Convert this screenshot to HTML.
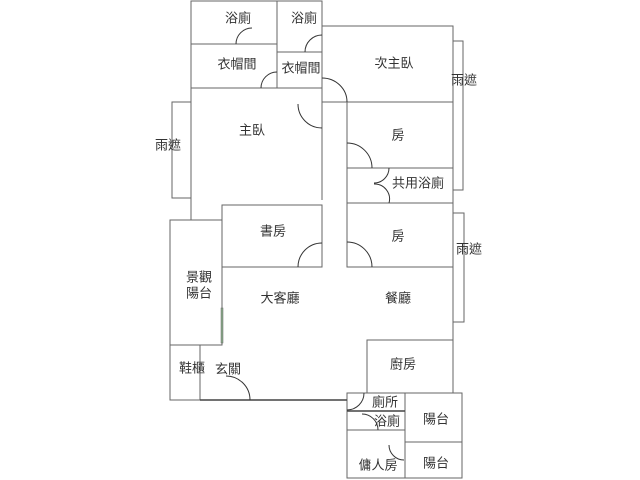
<!DOCTYPE html>
<html><head><meta charset="utf-8"><style>
html,body{margin:0;padding:0;background:#fff;}
svg{display:block}
text{font-family:"Liberation Sans","Noto Sans CJK TC","WenQuanYi Zen Hei",sans-serif;font-size:13px;fill:#333;text-anchor:middle;dominant-baseline:central}
</style></head><body>
<svg width="640" height="480" viewBox="0 0 640 480" xmlns="http://www.w3.org/2000/svg">
<g fill="none" stroke="#666" stroke-width="1">
<!-- top baths / closets -->
<rect x="191" y="1" width="86" height="43"/>
<rect x="277" y="1" width="45" height="51"/>
<rect x="191" y="44" width="86" height="44"/>
<rect x="277" y="52" width="45" height="36"/>
<!-- 次主臥 -->
<rect x="322" y="26" width="131" height="76"/>
<!-- 雨遮 right top -->
<rect x="453" y="41" width="10" height="149"/>
<!-- 雨遮 left -->
<rect x="172" y="102" width="19" height="96"/>
<!-- main bedroom walls -->
<line x1="191" y1="88" x2="191" y2="220"/>
<line x1="191" y1="88" x2="322" y2="88"/>
<line x1="322" y1="88" x2="322" y2="200"/>
<!-- 房 -->
<line x1="347" y1="102" x2="347" y2="267"/>
<rect x="347" y="102" width="106" height="66"/>
<rect x="347" y="168" width="106" height="35"/>
<!-- 書房 -->
<rect x="222" y="205" width="100" height="62"/>
<!-- 房2 -->
<rect x="347" y="203" width="106" height="64"/>
<!-- 雨遮 right 2 -->
<rect x="453" y="213" width="11" height="109"/>
<!-- 景觀陽台 -->
<rect x="170" y="220" width="52" height="125"/>
<!-- outer right wall -->
<line x1="453" y1="203" x2="453" y2="340"/>
<!-- 廚房 -->
<rect x="367" y="340" width="86" height="53"/>
<!-- 鞋櫃 -->
<rect x="170" y="345" width="30" height="55"/>
<!-- bottom rooms -->
<rect x="347" y="393" width="58" height="18"/>
<rect x="347" y="411" width="58" height="19"/>
<rect x="347" y="430" width="58" height="48"/>
<rect x="405" y="393" width="57" height="49"/>
<rect x="405" y="442" width="57" height="36"/>
</g>
<!-- thick walls -->
<line x1="200" y1="400" x2="347" y2="400" stroke="#444" stroke-width="1.5"/>
<line x1="347" y1="411" x2="405" y2="411" stroke="#444" stroke-width="1.5"/>
<rect x="221" y="308" width="2" height="35" fill="#8a8" stroke="#666" stroke-width="0.5"/>
<!-- door arcs -->
<g fill="none" stroke="#333" stroke-width="1">
<path d="M236 44 A16 16 0 0 1 252 28"/>
<path d="M305 52 A17 17 0 0 1 322 35"/>
<path d="M261 88 A16 16 0 0 1 277 72"/>
<path d="M322 78 A25 24 0 0 1 347 102"/>
<path d="M298 104 A24 24 0 0 0 322 128"/>
<path d="M347 143 A25 25 0 0 1 372 168"/>
<path d="M389 168 A15 15 0 0 1 374 183"/>
<path d="M374 184 A15 15 0 0 1 389 203"/>
<path d="M298 267 A24 24 0 0 1 322 243"/>
<path d="M347 242 A25 25 0 0 1 372 267"/>
<path d="M226 376 A24 24 0 0 1 250 400"/>
<path d="M347 410 A17 17 0 0 0 364 393"/>
<path d="M362 414 A16 16 0 0 1 378 430"/>
<path d="M389 445 A15 15 0 0 0 404 460"/>
</g>
<text x="238" y="18">浴廁</text>
<text x="304" y="18">浴廁</text>
<text x="237" y="64">衣帽間</text>
<text x="301" y="68">衣帽間</text>
<text x="394" y="63">次主臥</text>
<text x="464" y="80">雨遮</text>
<text x="252" y="130">主臥</text>
<text x="398" y="135">房</text>
<text x="418" y="183">共用浴廁</text>
<text x="168" y="145">雨遮</text>
<text x="273" y="231">書房</text>
<text x="398" y="236">房</text>
<text x="469" y="249">雨遮</text>
<text x="199" y="277">景觀</text>
<text x="199" y="293">陽台</text>
<text x="280" y="298">大客廳</text>
<text x="398" y="298">餐廳</text>
<text x="403" y="364">廚房</text>
<text x="192" y="368">鞋櫃</text>
<text x="228" y="369">玄關</text>
<text x="385" y="402">廁所</text>
<text x="387" y="421">浴廁</text>
<text x="436" y="419">陽台</text>
<text x="436" y="463">陽台</text>
<text x="378" y="465">傭人房</text>
</svg>
</body></html>
